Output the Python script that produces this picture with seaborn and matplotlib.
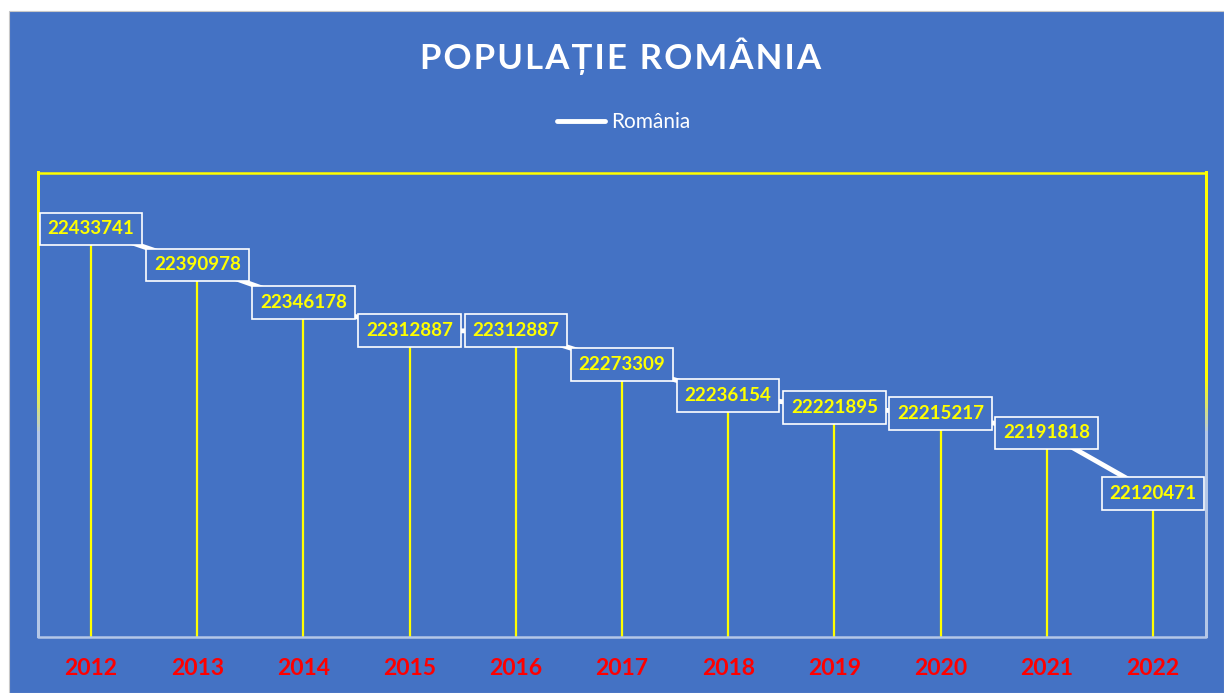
import numpy as np
import pandas as pd
import matplotlib
matplotlib.use("Agg")
import matplotlib.pyplot as plt
import matplotlib.colors as mcolors
from matplotlib.collections import LineCollection
import seaborn as sns

# values
years = ["2012", "2013", "2014", "2015", "2016", "2017",
         "2018", "2019", "2020", "2021", "2022"]
population = [22433741, 22390978, 22346178, 22312887, 22312887, 22273309,
              22236154, 22221895, 22215217, 22191818, 22120471]

BLUE = "#4472C4"
YELLOW = "#FFFF00"
LIGHT = "#B4C7E7"

df = pd.DataFrame({"pos": np.arange(len(years)), "year": years, "pop": population})

sns.set_style("white")
plt.rcParams["font.family"] = ["Lato", "DejaVu Sans"]

fig = plt.figure(figsize=(12.24, 6.93), dpi=100, facecolor="white")
# blue chart area (thin white margin top/left as in the reference)
fig.patches.append(plt.Rectangle((9 / 1224, 0), 1 - 9 / 1224, 1 - 11 / 693,
                                 transform=fig.transFigure, facecolor=BLUE,
                                 edgecolor="#C8C8C8", lw=0.8, zorder=-10))

ax = fig.add_axes([38 / 1224, 1 - 637 / 693, (1206 - 38) / 1224, (637 - 173) / 693])
ax.set_facecolor(BLUE)
ax.patch.set_alpha(0)

# drop lines
ax.vlines(df["pos"], 21950000, df["pop"], color=YELLOW, lw=1.6, zorder=1)

# main line
sns.lineplot(data=df, x="pos", y="pop", ax=ax, color="white", lw=3.5,
             label="România", legend=False, zorder=2)

# data labels
for x, v in zip(df["pos"], df["pop"]):
    ax.text(x, v, str(v), ha="center", va="center", color=YELLOW,
            fontsize=13.5, fontweight="bold", zorder=3,
            bbox=dict(boxstyle="square,pad=0.42", facecolor=BLUE,
                      edgecolor="white", lw=1.2))

ax.set_xlim(-0.5, len(years) - 0.5)
ax.set_ylim(21950000, 22500000)
ax.set_xticks(df["pos"])
ax.set_xticklabels(years, color="red", fontsize=16.5, fontweight="bold")
ax.tick_params(axis="x", length=0, pad=15)
ax.set_yticks([])
ax.set_xlabel("")
ax.set_ylabel("")

# frame: yellow top, sides fade from yellow to light, light bottom
for s in ax.spines.values():
    s.set_visible(False)
tr = ax.transAxes
ax.plot([0, 1], [1, 1], color=YELLOW, lw=1.8, transform=tr, clip_on=False)
ax.plot([0, 1], [0, 0], color=LIGHT, lw=1.8, transform=tr, clip_on=False)
cmap = mcolors.LinearSegmentedColormap.from_list(
    "fade", [(0, LIGHT), (0.44, LIGHT), (0.56, YELLOW), (1, YELLOW)])
ys = np.linspace(0, 1, 120)
for xs in (0, 1):
    segs = [[(xs, a), (xs, b + 0.004)] for a, b in zip(ys[:-1], ys[1:])]
    lc = LineCollection(segs, colors=[cmap(0.5 * (a + b)) for a, b in zip(ys[:-1], ys[1:])],
                        linewidths=1.8, transform=tr, clip_on=False, antialiased=False)
    ax.add_collection(lc)

# title and legend
title = "POPULAȚIE ROMÂNIA"
fig.text(621 / 1224, 1 - 56 / 693, "\u200a".join(title),
         ha="center", va="center", color="white", fontsize=25, fontweight="bold")
leg = fig.legend(loc="center", bbox_to_anchor=(624 / 1224, 1 - 122 / 693),
                 frameon=False, fontsize=15, handlelength=2.3, handletextpad=0.3,
                 labelcolor="white")

fig.savefig("out.png", dpi=100, facecolor=fig.get_facecolor())
